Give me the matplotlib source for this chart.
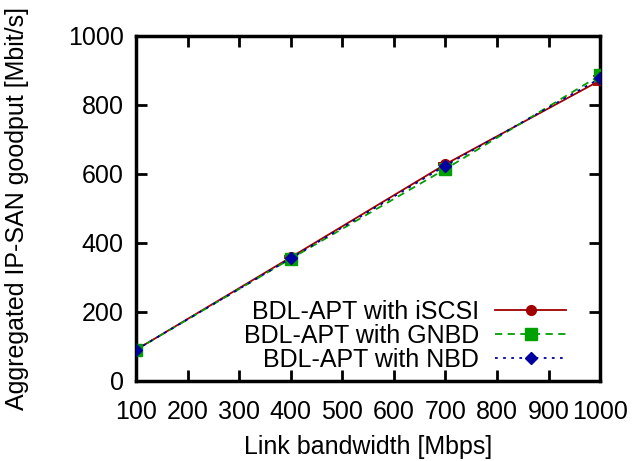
import matplotlib
matplotlib.use("Agg")
import matplotlib.pyplot as plt

plt.rcParams["font.family"] = ["Liberation Sans", "DejaVu Sans"]

# link bandwidth in Mbps
bandwidth = [100, 400, 700, 1000]

# aggregated goodput in Mbit/s
iscsi = [90, 358, 628, 871]
iscsi_err = [2, 3, 3, 14]
gnbd = [90, 354, 614, 886]
nbd = [90, 355, 624, 877]

labels = ["BDL-APT with iSCSI", "BDL-APT with GNBD", "BDL-APT with NBD"]

fig = plt.figure(figsize=(6.33, 4.61), dpi=100)
ax = fig.add_axes([0.215, 0.174, 0.733, 0.748])

ax.errorbar(bandwidth, iscsi, yerr=iscsi_err, fmt="none", ecolor="#a00000",
            elinewidth=1.3, capsize=5, capthick=1.3, zorder=2)
ax.plot(bandwidth, iscsi, color="#a00000", linestyle="-", linewidth=1.3,
        marker="o", markersize=7, label=labels[0], zorder=3)
ax.plot(bandwidth, gnbd, color="#00a000", linestyle=(0, (4, 3)), linewidth=1.3,
        marker="s", markersize=8, label=labels[1], zorder=4)
ax.plot(bandwidth, nbd, color="#0000a0", linestyle=(0, (1.5, 3)), linewidth=1.3,
        marker="D", markersize=6, label=labels[2], zorder=5)

ax.set_xlim(100, 1000)
ax.set_ylim(0, 1000)
ax.set_xticks(range(100, 1001, 100))
ax.set_yticks(range(0, 1001, 200))
ax.tick_params(direction="in", length=8, width=2, top=True, right=True,
               labelsize=18, pad=9)
ax.tick_params(axis="x", pad=14)
for sp in ax.spines.values():
    sp.set_linewidth(2.5)

ax.set_xlabel("Link bandwidth [Mbps]", fontsize=18, labelpad=8)
ax.set_ylabel("Aggregated IP-SAN goodput [Mbit/s]", fontsize=18, labelpad=28)

ax.legend(loc="lower right", frameon=False, markerfirst=False, fontsize=18,
          handlelength=2.85, handletextpad=0.65, labelspacing=0.0,
          borderaxespad=0.3, bbox_to_anchor=(0.965, -0.025))

fig.savefig("out.png", dpi=100)
